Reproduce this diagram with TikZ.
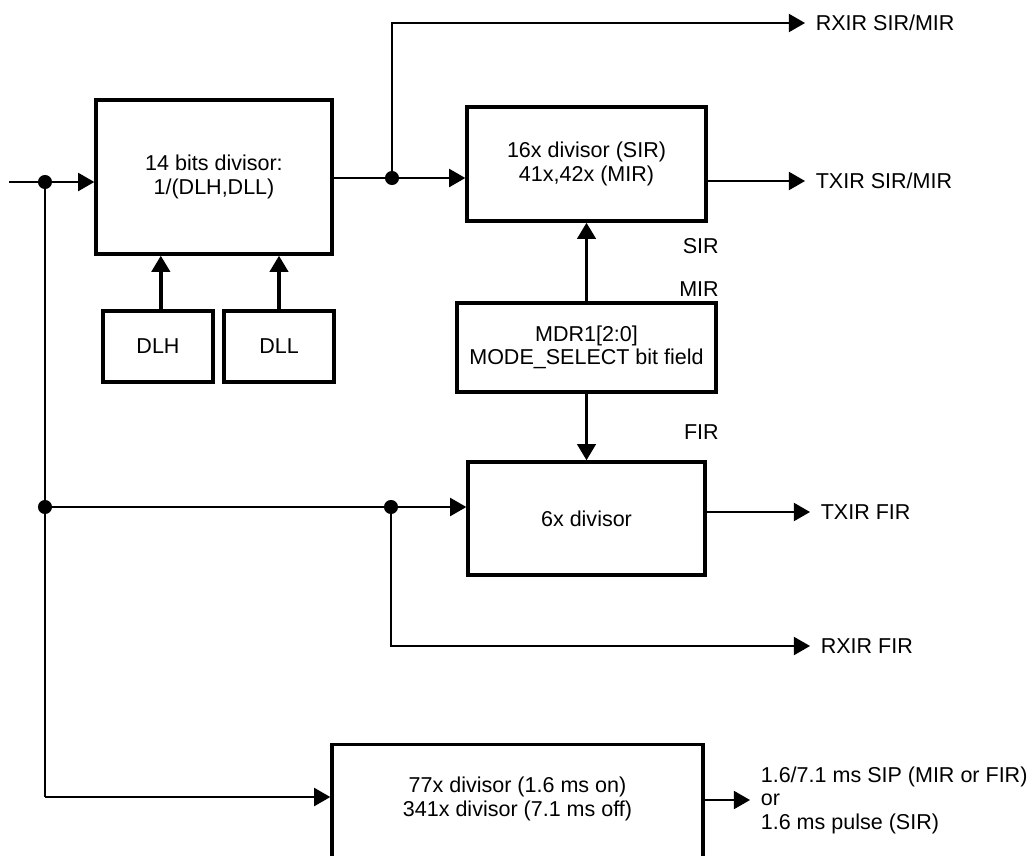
\documentclass[tikz,border=0pt]{standalone}
\usepackage{fontspec}
\setmainfont{Liberation Sans}
\usetikzlibrary{arrows.meta}

\begin{document}
\begin{tikzpicture}[
    x=0.025cm, y=-0.025cm,
    font=\fontsize{15.3}{16.7}\selectfont,
    box/.style={
        draw,
        line width=2.4pt,
        inner sep=0pt,
        align=center
    },
    sig/.style={
        -{Triangle[length=11.5pt,width=13pt]},
        line width=0.9pt
    },
    ctl/.style={
        sig,
        line width=2.4pt
    },
    dot/.style={circle, fill, inner sep=0pt, minimum size=10pt},
    outlbl/.style={anchor=west, inner xsep=7.5pt, inner ysep=0pt, align=left},
    modelbl/.style={anchor=east, inner sep=0pt}
]
    \useasboundingbox (0,0) rectangle (1029,855);

    % divisor blocks
    \node[box, minimum width=5.9cm, minimum height=3.85cm] (div14) at (214,177)
        {14 bits divisor:\\1/(DLH,DLL)};

    \node[box, minimum width=2.75cm, minimum height=1.775cm] (dlh) at (158,346.5) {DLH};
    \node[box, minimum width=2.75cm, minimum height=1.775cm] (dll) at (279,346.5) {DLL};

    \node[box, minimum width=5.975cm, minimum height=2.85cm] (div16) at (586.5,164)
        {16x divisor (SIR)\\41x,42x (MIR)};

    \node[box, minimum width=6.475cm, minimum height=2.225cm] (mdr) at (586.5,347.5)
        {MDR1[2:0]\\MODE\_SELECT bit field};

    \node[box, minimum width=5.925cm, minimum height=2.825cm] (div6) at (586.5,518.5)
        {6x divisor};

    \node[box, anchor=north, minimum width=9.275cm, minimum height=3.5cm] (div77) at (517.5,743) {};
    \node[align=center] (div77txt) at (517.5,799)
        {77x divisor (1.6 ms on)\\341x divisor (7.1 ms off)};

    % outputs
    \node[outlbl] (rxsir) at (805,23) {RXIR SIR/MIR};
    \node[outlbl] (txsir) at (805,181) {TXIR SIR/MIR};
    \node[outlbl] (txfir) at (810,512) {TXIR FIR};
    \node[outlbl] (rxfir) at (810,646) {RXIR FIR};
    \node[outlbl] (pulse) at (750,800)
        {1.6/7.1 ms SIP (MIR or FIR)\\or\\1.6 ms pulse (SIR)};

    % mode names
    \node[modelbl] (sir) at (719,246) {SIR};
    \node[modelbl] (mir) at (719,289) {MIR};
    \node[modelbl] (fir) at (719,432) {FIR};

    % junctions
    \coordinate (clk) at (9,182);
    \coordinate (low) at (45,797);
    \node[dot] (j1) at (45,182) {};
    \node[dot] (j2) at (392,178) {};
    \node[dot] (j3) at (45,507) {};
    \node[dot] (j4) at (391,507) {};

    \draw[sig] (clk) -- (clk -| div14.west);
    \draw[sig] (div14.east |- j2) -- (j2 -| div16.west);
    \draw[sig] (j2) |- (rxsir.west);
    \draw[sig] (div16.east |- txsir.west) -- (txsir.west);

    \draw[ctl] ([xshift=2pt]dlh.north) -- ([xshift=2pt]dlh.north |- div14.south);
    \draw[ctl] (dll.north) -- (dll.north |- div14.south);
    \draw[ctl] (mdr.north) -- (div16.south);
    \draw[ctl] (mdr.south) -- (div6.north);

    \draw[line width=0.9pt] (j1) -- (low);
    \draw[sig] (low) -- (low -| div77.west);
    \draw[sig] (j3) -- (j3 -| div6.west);
    \draw[sig] (j4) |- (rxfir.west);
    \draw[sig] (div6.east |- txfir.west) -- (txfir.west);
    \draw[sig] (div77.east |- pulse.west) -- (pulse.west);

\end{tikzpicture}
\end{document}
